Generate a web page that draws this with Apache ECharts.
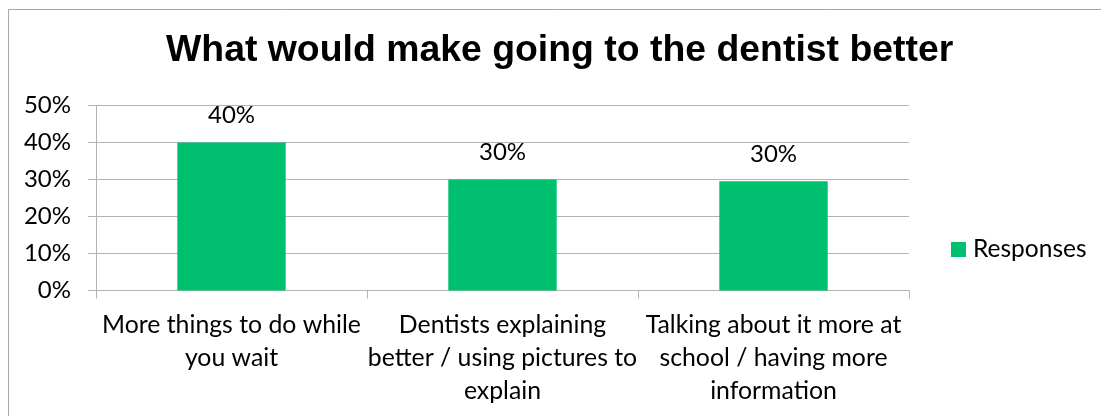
<!DOCTYPE html>
<html>
<head>
<meta charset="utf-8">
<script src="https://cdn.jsdelivr.net/npm/echarts@6/dist/echarts.min.js"></script>
<style>
  html, body { margin: 0; padding: 0; background: #fff; }
  #chart { width: 1101px; height: 416px; }
</style>
</head>
<body>
<div id="chart"></div>
<script>
// Survey answers: share of responses per suggestion
const categories = [
  'More things to do while\nyou wait',
  'Dentists explaining\nbetter / using pictures to\nexplain',
  'Talking about it more at\nschool / having more\ninformation'
];
const responses = [0.40, 0.30, 0.295];
const yTicks = { min: 0, max: 0.5, interval: 0.1 };
const seriesName = 'Responses';
const titleText = 'What would make going to the dentist better';

const bodyFont = 'Lato';
const gridGray = '#b3b3b3';
const barGreen = '#00BF6F';

const pct = v => Math.round(v * 100) + '%';

const chart = echarts.init(document.getElementById('chart'), null, { renderer: 'canvas' });
chart.setOption({
  backgroundColor: '#ffffff',
  animation: false,
  title: {
    text: titleText,
    left: 166,
    top: 32,
    padding: 0,
    textStyle: {
      fontFamily: 'Liberation Sans',
      fontWeight: 'bold',
      fontSize: 37.4,
      color: '#000'
    }
  },
  graphic: [{
    type: 'rect',
    shape: { x: 8.5, y: 9.5, width: 1200, height: 500 },
    style: { fill: 'none', stroke: '#a6a6a6', lineWidth: 1 },
    silent: true,
    z: -1
  }],
  legend: {
    data: [seriesName],
    left: 951,
    top: 237,
    icon: 'rect',
    itemWidth: 15,
    itemHeight: 15,
    itemGap: 10,
    padding: 0,
    textStyle: { fontFamily: bodyFont, fontSize: 24.5, color: '#000', padding: [0, 0, 0, 2] }
  },
  grid: {
    left: 96,
    right: 192,
    top: 105.5,
    bottom: 125.5,
    containLabel: false
  },
  xAxis: {
    type: 'category',
    data: categories,
    boundaryGap: true,
    axisLine: { show: true, lineStyle: { color: gridGray, width: 1 } },
    axisTick: { show: true, length: 8, inside: false, lineStyle: { color: gridGray } },
    axisLabel: {
      interval: 0,
      hideOverlap: false,
      margin: 18,
      fontFamily: bodyFont,
      fontSize: 24.8,
      lineHeight: 33,
      color: '#000',
      align: 'center'
    },
    splitLine: { show: false }
  },
  yAxis: {
    type: 'value',
    min: yTicks.min,
    max: yTicks.max,
    interval: yTicks.interval,
    axisLine: { show: true, lineStyle: { color: gridGray, width: 1 } },
    axisTick: { show: true, length: 8, inside: false, lineStyle: { color: gridGray } },
    axisLabel: {
      margin: 25,
      fontFamily: bodyFont,
      fontSize: 24,
      color: '#000',
      formatter: pct
    },
    splitLine: { show: true, lineStyle: { color: gridGray, width: 1 } }
  },
  series: [{
    name: seriesName,
    type: 'bar',
    data: responses,
    barWidth: '40%',
    itemStyle: { color: barGreen },
    label: {
      show: true,
      position: 'top',
      distance: 15,
      fontFamily: bodyFont,
      fontSize: 24,
      color: '#000',
      formatter: p => pct(p.value)
    }
  }]
});
</script>
</body>
</html>
